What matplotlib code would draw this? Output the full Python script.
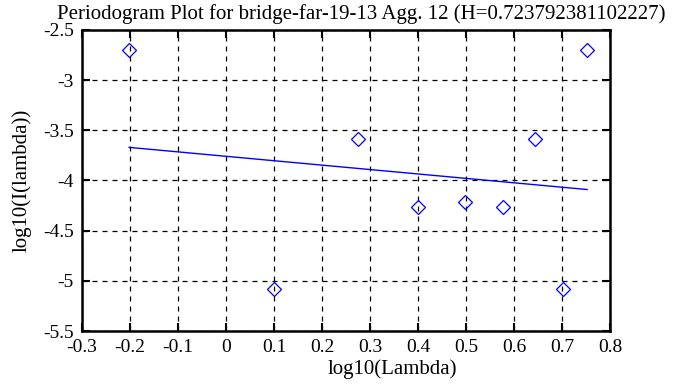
import numpy as np
import matplotlib.pyplot as plt

# log10 of frequency and log10 of periodogram value
log_lambda = [-0.2018, 0.0993, 0.2754, 0.4003, 0.4972, 0.5763, 0.6433, 0.7012, 0.7524]
log_I = [-2.70, -5.08, -3.59, -4.26, -4.21, -4.26, -3.59, -5.08, -2.70]
# fitted line ends
fit_x = [-0.2018, 0.7524]
fit_y = [-3.67, -4.09]

plt.rcParams['font.family'] = ['Liberation Serif', 'DejaVu Serif']

fig = plt.figure(figsize=(6.88, 3.87), dpi=100)
ax = fig.add_axes([0.1192, 0.1447, 0.8866 - 0.1192, 0.9225 - 0.1447])

ax.plot(log_lambda, log_I, linestyle='none', marker='D', markersize=7,
        markerfacecolor='none', markeredgecolor='blue', markeredgewidth=0.9)
ax.plot(fit_x, fit_y, color='blue', linewidth=1)

ax.set_xlim(-0.3, 0.8)
ax.set_ylim(-5.5, -2.5)
ax.set_xticks(np.arange(-0.3, 0.81, 0.1))
ax.set_xticklabels(['-0.3', '-0.2', '-0.1', '0', '0.1', '0.2', '0.3', '0.4', '0.5', '0.6', '0.7', '0.8'])
ax.set_yticks(np.arange(-5.5, -2.49, 0.5))
ax.set_yticklabels(['-5.5', '-5', '-4.5', '-4', '-3.5', '-3', '-2.5'])
ax.grid(True, color='black', linestyle=(0, (4, 4)), linewidth=0.9)
ax.tick_params(direction='in', top=True, right=True, length=6, width=1.5, labelsize=14, pad=6)
for s in ax.spines.values():
    s.set_linewidth(1.8)

ax.set_xlabel('log10(Lambda)', fontsize=15, labelpad=3)
ax.xaxis.set_label_coords(0.587, -0.095)
ax.set_ylabel('log10(I(lambda))', fontsize=15, labelpad=8)
ax.set_title('Periodogram Plot for bridge-far-19-13 Agg. 12 (H=0.723792381102227)',
             fontsize=15, pad=8, x=0.528)

fig.savefig('out.png', dpi=100)
